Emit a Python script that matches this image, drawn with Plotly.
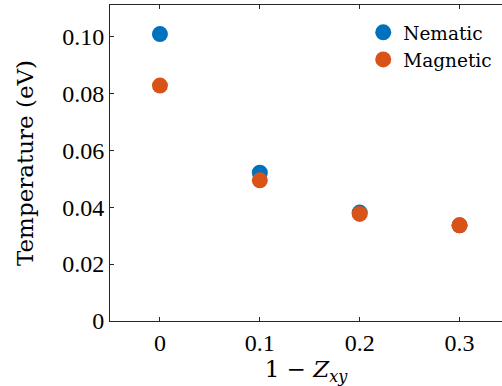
import plotly.graph_objects as go

x_vals = [0.0, 0.1, 0.2, 0.3]
nematic = [0.1008, 0.0521, 0.0381, 0.0336]
magnetic = [0.0827, 0.0494, 0.0376, 0.0336]

x_tickvals = [0, 0.1, 0.2, 0.3]
x_ticktext = ["0", "0.1", "0.2", "0.3"]
y_tickvals = [0, 0.02, 0.04, 0.06, 0.08, 0.10]
y_ticktext = ["0", "0.02", "0.04", "0.06", "0.08", "0.10"]

TICKFONT = "Liberation Serif"
TITLEFONT = "DejaVu Serif"
AX = "#262626"

fig = go.Figure()
fig.add_trace(go.Scatter(x=x_vals, y=nematic, mode="markers", name="Nematic",
                         marker=dict(size=16, color="#0072BD")))
fig.add_trace(go.Scatter(x=x_vals, y=magnetic, mode="markers", name="Magnetic",
                         marker=dict(size=16, color="#D95319")))

fig.update_layout(
    width=502, height=386,
    margin=dict(l=109.5, r=0, t=4.5, b=65.3),
    plot_bgcolor="white", paper_bgcolor="white",
    font=dict(family=TICKFONT, size=24, color="black"),
    showlegend=True,
    legend=dict(x=0.646, y=0.972, xanchor="left", yanchor="top",
                font=dict(family=TITLEFONT, size=18.5, color="black"),
                bgcolor="rgba(0,0,0,0)"),
    xaxis=dict(range=[-0.05, 0.3425], tickvals=x_tickvals, ticktext=x_ticktext,
               tickfont=dict(family=TICKFONT, size=24),
               showline=True, linecolor=AX, linewidth=1, mirror="ticks",
               ticks="inside", ticklen=4, tickcolor=AX, showgrid=False, zeroline=False,
               title=dict(text="1 − <i>Z</i><sub><i>xy</i></sub>",
                          font=dict(family=TITLEFONT, size=23), standoff=0)),
    yaxis=dict(range=[0, 0.111], tickvals=y_tickvals, ticktext=y_ticktext,
               tickfont=dict(family=TICKFONT, size=24),
               showline=True, linecolor=AX, linewidth=1, mirror=False,
               ticks="inside", ticklen=4, tickcolor=AX, showgrid=False, zeroline=False,
               title=dict(text="Temperature (eV)",
                          font=dict(family=TITLEFONT, size=23), standoff=22)),
)

fig.write_html("out.html")
